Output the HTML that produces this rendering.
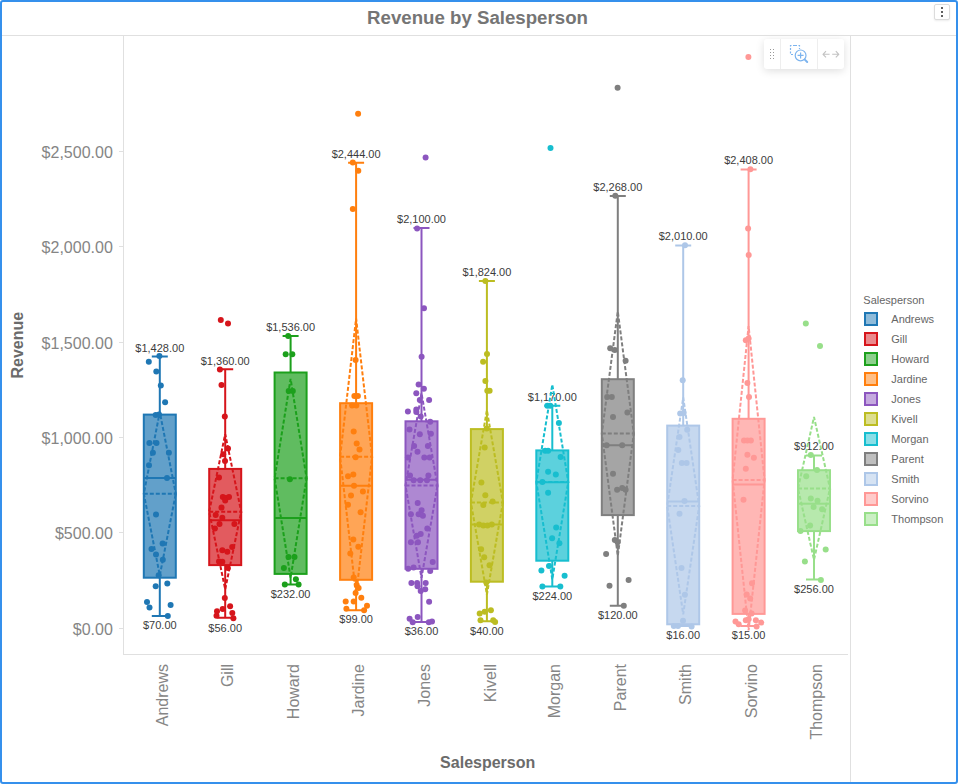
<!DOCTYPE html>
<html><head><meta charset="utf-8"><title>Revenue by Salesperson</title>
<style>
html,body{margin:0;padding:0;background:#fff;}
body{width:958px;height:784px;overflow:hidden;font-family:"Liberation Sans",sans-serif;}
#frame{position:absolute;left:0;top:0;width:958px;height:784px;box-sizing:border-box;border:2px solid #3590ec;border-radius:3px;background:#fff;}
#menu{position:absolute;left:934px;top:4px;width:16px;height:16px;box-sizing:border-box;border:1px solid #dcdcdc;border-radius:2px;background:#fff;box-shadow:0 1px 2px rgba(0,0,0,0.08);}
#tb{position:absolute;left:764px;top:39px;width:80px;height:30px;border-radius:3px;background:#fff;box-shadow:0 2px 8px rgba(0,0,0,0.13);}
#tb i{position:absolute;top:0;width:1px;height:30px;background:#eee;}
</style></head><body>
<div id="frame"></div>
<div id="menu"></div>
<div id="tb"><i style="left:16px"></i><i style="left:53px"></i></div>
<svg width="958" height="784" viewBox="0 0 958 784" style="position:absolute;left:0;top:0;font-family:'Liberation Sans',sans-serif">
<g shape-rendering="crispEdges" fill="#e0e0e0">
<rect x="2" y="35" width="954" height="1"/>
<rect x="123" y="36" width="1" height="619"/>
<rect x="123" y="654" width="725" height="1"/>
<rect x="850" y="36" width="1" height="746"/>
<rect x="119" y="628" width="4" height="1"/>
<rect x="119" y="532" width="4" height="1"/>
<rect x="119" y="437" width="4" height="1"/>
<rect x="119" y="342" width="4" height="1"/>
<rect x="119" y="246" width="4" height="1"/>
<rect x="119" y="151" width="4" height="1"/>
</g>
<text x="477.5" y="24.4" text-anchor="middle" font-size="18.67" font-weight="bold" fill="#757575">Revenue by Salesperson</text>
<g font-size="16" fill="#858585" text-anchor="end">
<text x="112.8" y="634.8">$0.00</text>
<text x="112.8" y="539.4">$500.00</text>
<text x="112.8" y="444">$1,000.00</text>
<text x="112.8" y="348.6">$1,500.00</text>
<text x="112.8" y="253.2">$2,000.00</text>
<text x="112.8" y="157.8">$2,500.00</text>
</g>
<text transform="translate(23,345.2) rotate(-90)" text-anchor="middle" font-size="16" font-weight="bold" fill="#6b6b6b">Revenue</text>
<text x="487.7" y="768.3" text-anchor="middle" font-size="16" font-weight="bold" fill="#6b6b6b">Salesperson</text>
<g font-size="16" fill="#868686" text-anchor="end">
<text transform="translate(168.4,664) rotate(-90)">Andrews</text>
<text transform="translate(233.3,664) rotate(-90)">Gill</text>
<text transform="translate(299.2,664) rotate(-90)">Howard</text>
<text transform="translate(363.9,664) rotate(-90)">Jardine</text>
<text transform="translate(430.1,664) rotate(-90)">Jones</text>
<text transform="translate(495.5,664) rotate(-90)">Kivell</text>
<text transform="translate(560.4,664) rotate(-90)">Morgan</text>
<text transform="translate(626.4,664) rotate(-90)">Parent</text>
<text transform="translate(690.8,664) rotate(-90)">Smith</text>
<text transform="translate(757.2,664) rotate(-90)">Sorvino</text>
<text transform="translate(821.9,664) rotate(-90)">Thompson</text>
</g>
<g font-size="11" fill="#3c3c3c" text-anchor="middle">
<text x="159.8" y="352.2">$1,428.00</text>
<text x="159.8" y="628.5">$70.00</text>
<text x="225.2" y="364.8">$1,360.00</text>
<text x="225.2" y="632.4">$56.00</text>
<text x="290.6" y="330.5">$1,536.00</text>
<text x="290.6" y="598">$232.00</text>
<text x="356.1" y="158.3">$2,444.00</text>
<text x="356.1" y="623.1">$99.00</text>
<text x="421.5" y="222.6">$2,100.00</text>
<text x="421.5" y="634.8">$36.00</text>
<text x="486.9" y="275.7">$1,824.00</text>
<text x="486.9" y="634.8">$40.00</text>
<text x="552.3" y="401.3">$1,170.00</text>
<text x="552.3" y="600">$224.00</text>
<text x="617.8" y="190.5">$2,268.00</text>
<text x="617.8" y="619.4">$120.00</text>
<text x="683.2" y="240">$2,010.00</text>
<text x="683.2" y="638.6">$16.00</text>
<text x="748.6" y="164">$2,408.00</text>
<text x="748.6" y="638.7">$15.00</text>
<text x="814" y="450.2">$912.00</text>
<text x="814" y="593.2">$256.00</text>
</g>
<g stroke="#1f77b4" fill="none" stroke-width="2">
<path d="M159.8 356.6V414.6M159.8 577.7V615.9M151.8 356.6H167.8M151.8 615.9H167.8"/>
<rect x="143.8" y="414.6" width="32" height="163.1" fill="#1f77b4" fill-opacity="0.7"/>
<path d="M143.8 477.9H175.8"/>
<path stroke-dasharray="4 2" stroke-width="2" d="M143.8 493.7H175.8L159.8 412L143.8 493.7L159.8 575.4L175.8 493.7"/>
</g>
<g fill="#1f77b4"><circle cx="159.4" cy="356.1" r="3"/><circle cx="148.8" cy="361.8" r="3"/><circle cx="156.3" cy="371.4" r="3"/><circle cx="160.8" cy="385.5" r="3"/><circle cx="165.1" cy="402.3" r="3"/><circle cx="155.7" cy="414.9" r="3"/><circle cx="159" cy="414.6" r="3"/><circle cx="149.4" cy="443.1" r="3"/><circle cx="156.5" cy="443.1" r="3"/><circle cx="152.9" cy="452.7" r="3"/><circle cx="168.9" cy="452.7" r="3"/><circle cx="149" cy="465.2" r="3"/><circle cx="167" cy="477.9" r="3"/><circle cx="156" cy="514.4" r="3"/><circle cx="162.6" cy="543.5" r="3"/><circle cx="151.5" cy="549" r="3"/><circle cx="156" cy="554.5" r="3"/><circle cx="162.8" cy="559.8" r="3"/><circle cx="158.7" cy="575.2" r="3"/><circle cx="167.3" cy="583.5" r="3"/><circle cx="155.7" cy="586.3" r="3"/><circle cx="147" cy="602.1" r="3"/><circle cx="149.5" cy="607.6" r="3"/><circle cx="170.6" cy="604.9" r="3"/><circle cx="167.8" cy="615.9" r="3"/></g>
<g stroke="#d6151b" fill="none" stroke-width="2">
<path d="M225.2 369.2V468.9M225.2 565.1V617.8M217.2 369.2H233.2M217.2 617.8H233.2"/>
<rect x="209.2" y="468.9" width="32" height="96.2" fill="#d6151b" fill-opacity="0.7"/>
<path d="M209.2 520.3H241.2"/>
<path stroke-dasharray="4 2" stroke-width="2" d="M209.2 511.7H241.2L225.2 434.1L209.2 511.7L225.2 589.3L241.2 511.7"/>
</g>
<g fill="#d6151b"><circle cx="220.8" cy="320" r="3"/><circle cx="228" cy="323.6" r="3"/><circle cx="219.9" cy="369.4" r="3"/><circle cx="221.5" cy="385" r="3"/><circle cx="224.8" cy="416.6" r="3"/><circle cx="228" cy="448.5" r="3"/><circle cx="223.2" cy="454.3" r="3"/><circle cx="225" cy="461.1" r="3"/><circle cx="219" cy="477.5" r="3"/><circle cx="222.8" cy="497.1" r="3"/><circle cx="225.7" cy="498" r="3"/><circle cx="229" cy="497.1" r="3"/><circle cx="225.2" cy="500.4" r="3"/><circle cx="221.5" cy="507.6" r="3"/><circle cx="215.7" cy="514.9" r="3"/><circle cx="222.3" cy="517.8" r="3"/><circle cx="219.5" cy="524" r="3"/><circle cx="234.4" cy="524" r="3"/><circle cx="214.9" cy="528.6" r="3"/><circle cx="232.2" cy="547" r="3"/><circle cx="222.3" cy="550.2" r="3"/><circle cx="227.3" cy="551.8" r="3"/><circle cx="219" cy="561.5" r="3"/><circle cx="222.3" cy="561.8" r="3"/><circle cx="227.8" cy="568.1" r="3"/><circle cx="224.8" cy="598" r="3"/><circle cx="230.1" cy="606.2" r="3"/><circle cx="222.7" cy="609" r="3"/><circle cx="217" cy="611.2" r="3"/><circle cx="232.3" cy="612.9" r="3"/><circle cx="216.5" cy="615.7" r="3"/><circle cx="233.4" cy="618.3" r="3"/></g>
<g stroke="#1ca01c" fill="none" stroke-width="2">
<path d="M290.6 335.9V372.5M290.6 573.9V584.4M282.6 335.9H298.6M282.6 584.4H298.6"/>
<rect x="274.6" y="372.5" width="32" height="201.4" fill="#1ca01c" fill-opacity="0.7"/>
<path d="M274.6 517.9H306.6"/>
<path stroke-dasharray="4 2" stroke-width="2" d="M274.6 478.2H306.6L290.6 378.8L274.6 478.2L290.6 577.6L306.6 478.2"/>
</g>
<g fill="#1ca01c"><circle cx="288.2" cy="335.9" r="3"/><circle cx="285.7" cy="354.3" r="3"/><circle cx="292.3" cy="354.3" r="3"/><circle cx="288.7" cy="390.9" r="3"/><circle cx="292.8" cy="390.9" r="3"/><circle cx="289.9" cy="479.3" r="3"/><circle cx="288.5" cy="556.9" r="3"/><circle cx="294.5" cy="556.9" r="3"/><circle cx="283.9" cy="567.9" r="3"/><circle cx="295.9" cy="579.2" r="3"/><circle cx="284.8" cy="584.5" r="3"/><circle cx="298.6" cy="584.5" r="3"/></g>
<g stroke="#ff7f0e" fill="none" stroke-width="2">
<path d="M356.1 162.7V403.2M356.1 579.8V610.3M348.1 162.7H364.1M348.1 610.3H364.1"/>
<rect x="340.1" y="403.2" width="32" height="176.6" fill="#ff7f0e" fill-opacity="0.7"/>
<path d="M340.1 485.7H372.1"/>
<path stroke-dasharray="4 2" stroke-width="2" d="M340.1 456.8H372.1L356.1 318.5L340.1 456.8L356.1 595.1L372.1 456.8"/>
</g>
<g fill="#ff7f0e"><circle cx="358.1" cy="113.8" r="3"/><circle cx="352.8" cy="162.4" r="3"/><circle cx="358.3" cy="170.7" r="3"/><circle cx="352.8" cy="209" r="3"/><circle cx="355.6" cy="360.1" r="3"/><circle cx="354.4" cy="396" r="3"/><circle cx="357.9" cy="396" r="3"/><circle cx="352.1" cy="405.6" r="3"/><circle cx="356.3" cy="405.6" r="3"/><circle cx="353.7" cy="431.5" r="3"/><circle cx="356.7" cy="443.4" r="3"/><circle cx="359.5" cy="449.6" r="3"/><circle cx="355.6" cy="457.2" r="3"/><circle cx="353.3" cy="474.4" r="3"/><circle cx="348" cy="476.3" r="3"/><circle cx="354" cy="485.7" r="3"/><circle cx="362.9" cy="491.4" r="3"/><circle cx="351" cy="495.6" r="3"/><circle cx="348" cy="504.8" r="3"/><circle cx="360.6" cy="512.3" r="3"/><circle cx="353.3" cy="539.6" r="3"/><circle cx="358.3" cy="546.8" r="3"/><circle cx="350.3" cy="553.4" r="3"/><circle cx="353.7" cy="577.5" r="3"/><circle cx="356.7" cy="585.1" r="3"/><circle cx="358.6" cy="588.1" r="3"/><circle cx="355.6" cy="593.1" r="3"/><circle cx="361.3" cy="597.7" r="3"/><circle cx="345.7" cy="601.6" r="3"/><circle cx="353.7" cy="601.6" r="3"/><circle cx="367" cy="605.7" r="3"/><circle cx="346.4" cy="608.7" r="3"/><circle cx="364.1" cy="610.3" r="3"/></g>
<g stroke="#8c56bf" fill="none" stroke-width="2">
<path d="M421.5 228V421.3M421.5 568.8V622M413.5 228H429.5M413.5 622H429.5"/>
<rect x="405.5" y="421.3" width="32" height="147.5" fill="#8c56bf" fill-opacity="0.7"/>
<path d="M405.5 479.8H437.5"/>
<path stroke-dasharray="4 2" stroke-width="2" d="M405.5 485.5H437.5L421.5 393.2L405.5 485.5L421.5 577.8L437.5 485.5"/>
</g>
<g fill="#8c56bf"><circle cx="425.6" cy="157.4" r="3"/><circle cx="417.1" cy="228.4" r="3"/><circle cx="424" cy="308.2" r="3"/><circle cx="421.6" cy="356.8" r="3"/><circle cx="418.6" cy="384.6" r="3"/><circle cx="423.9" cy="388.8" r="3"/><circle cx="416.3" cy="393.2" r="3"/><circle cx="419.8" cy="400" r="3"/><circle cx="429.1" cy="400" r="3"/><circle cx="407.9" cy="411.4" r="3"/><circle cx="416.3" cy="409.6" r="3"/><circle cx="416.3" cy="412" r="3"/><circle cx="420.7" cy="416.4" r="3"/><circle cx="430.2" cy="421.8" r="3"/><circle cx="409.5" cy="429.5" r="3"/><circle cx="419.8" cy="434.3" r="3"/><circle cx="430.9" cy="433.8" r="3"/><circle cx="414.1" cy="445.9" r="3"/><circle cx="427.9" cy="445.9" r="3"/><circle cx="417.5" cy="451.8" r="3"/><circle cx="407.9" cy="457.5" r="3"/><circle cx="424.3" cy="457.5" r="3"/><circle cx="429.6" cy="457.5" r="3"/><circle cx="410" cy="475.4" r="3"/><circle cx="428.4" cy="475.4" r="3"/><circle cx="413.6" cy="480.2" r="3"/><circle cx="420.2" cy="480.2" r="3"/><circle cx="427" cy="480.2" r="3"/><circle cx="417.7" cy="503" r="3"/><circle cx="421.6" cy="510.2" r="3"/><circle cx="410.9" cy="514.3" r="3"/><circle cx="418.6" cy="514.3" r="3"/><circle cx="422.9" cy="515.7" r="3"/><circle cx="427.3" cy="528.6" r="3"/><circle cx="420.7" cy="533.9" r="3"/><circle cx="416.8" cy="535.7" r="3"/><circle cx="410.9" cy="542.3" r="3"/><circle cx="418" cy="542.3" r="3"/><circle cx="432.7" cy="562.1" r="3"/><circle cx="408.2" cy="568.8" r="3"/><circle cx="413.6" cy="567.5" r="3"/><circle cx="430.2" cy="571.1" r="3"/><circle cx="411.4" cy="583" r="3"/><circle cx="417.1" cy="583" r="3"/><circle cx="425.7" cy="583" r="3"/><circle cx="417.5" cy="586.3" r="3"/><circle cx="420.7" cy="591.1" r="3"/><circle cx="425.2" cy="589.3" r="3"/><circle cx="429.1" cy="601.8" r="3"/><circle cx="417.7" cy="617" r="3"/><circle cx="409.6" cy="618.8" r="3"/><circle cx="412.7" cy="622.3" r="3"/><circle cx="428.8" cy="622.3" r="3"/><circle cx="432" cy="621.4" r="3"/></g>
<g stroke="#bcbd22" fill="none" stroke-width="2">
<path d="M486.9 281.1V429.1M486.9 581.7V621.2M478.9 281.1H494.9M478.9 621.2H494.9"/>
<rect x="470.9" y="429.1" width="32" height="152.6" fill="#bcbd22" fill-opacity="0.7"/>
<path d="M470.9 524.6H502.9"/>
<path stroke-dasharray="4 2" stroke-width="2" d="M470.9 502.4H502.9L486.9 410.3L470.9 502.4L486.9 594.5L502.9 502.4"/>
</g>
<g fill="#bcbd22"><circle cx="485.4" cy="281.1" r="3"/><circle cx="487" cy="354.1" r="3"/><circle cx="483.1" cy="361.7" r="3"/><circle cx="485.4" cy="381" r="3"/><circle cx="487.3" cy="390.8" r="3"/><circle cx="489.6" cy="390.8" r="3"/><circle cx="486.7" cy="428.4" r="3"/><circle cx="484.7" cy="447.6" r="3"/><circle cx="481.4" cy="482.4" r="3"/><circle cx="485.3" cy="495.3" r="3"/><circle cx="492.6" cy="501.5" r="3"/><circle cx="483.3" cy="504.9" r="3"/><circle cx="479.1" cy="524.6" r="3"/><circle cx="483.3" cy="525.4" r="3"/><circle cx="487.5" cy="525.4" r="3"/><circle cx="491.8" cy="524.6" r="3"/><circle cx="481.1" cy="549.3" r="3"/><circle cx="484.2" cy="557.2" r="3"/><circle cx="489.5" cy="565.3" r="3"/><circle cx="486.3" cy="582.5" r="3"/><circle cx="490.9" cy="610.3" r="3"/><circle cx="484.7" cy="611.7" r="3"/><circle cx="479.7" cy="613.4" r="3"/><circle cx="480.5" cy="620.2" r="3"/><circle cx="493.2" cy="620.2" r="3"/><circle cx="495.1" cy="621.9" r="3"/></g>
<g stroke="#17becf" fill="none" stroke-width="2">
<path d="M552.3 405.7V450.4M552.3 560.7V586.4M544.3 405.7H560.3M544.3 586.4H560.3"/>
<rect x="536.3" y="450.4" width="32" height="110.3" fill="#17becf" fill-opacity="0.7"/>
<path d="M536.3 482.2H568.3"/>
<path stroke-dasharray="4 2" stroke-width="2" d="M536.3 482H568.3L552.3 384.6L536.3 482L552.3 579.4L568.3 482"/>
</g>
<g fill="#17becf"><circle cx="550.5" cy="147.9" r="3"/><circle cx="547.3" cy="405.7" r="3"/><circle cx="550.3" cy="405.7" r="3"/><circle cx="558.9" cy="423" r="3"/><circle cx="545.1" cy="450.7" r="3"/><circle cx="548.1" cy="450.7" r="3"/><circle cx="560.6" cy="457.1" r="3"/><circle cx="548.1" cy="471.8" r="3"/><circle cx="555.8" cy="474.5" r="3"/><circle cx="542.4" cy="482.1" r="3"/><circle cx="548.1" cy="492.7" r="3"/><circle cx="556.2" cy="527.5" r="3"/><circle cx="552.1" cy="538.2" r="3"/><circle cx="559.4" cy="543.2" r="3"/><circle cx="549" cy="566.1" r="3"/><circle cx="541.4" cy="570.4" r="3"/><circle cx="564.6" cy="575.7" r="3"/><circle cx="542.4" cy="586.4" r="3"/><circle cx="560.3" cy="586.4" r="3"/></g>
<g stroke="#7f7f7f" fill="none" stroke-width="2">
<path d="M617.8 195.9V379.2M617.8 515.1V605.8M609.8 195.9H625.8M609.8 605.8H625.8"/>
<rect x="601.8" y="379.2" width="32" height="135.9" fill="#7f7f7f" fill-opacity="0.7"/>
<path d="M601.8 445.3H633.8"/>
<path stroke-dasharray="4 2" stroke-width="2" d="M601.8 433.6H633.8L617.8 311.5L601.8 433.6L617.8 555.7L633.8 433.6"/>
</g>
<g fill="#7f7f7f"><circle cx="617.6" cy="87.7" r="3"/><circle cx="615.3" cy="195.8" r="3"/><circle cx="610.2" cy="348.2" r="3"/><circle cx="614.8" cy="350" r="3"/><circle cx="625.6" cy="360.8" r="3"/><circle cx="607.2" cy="396.9" r="3"/><circle cx="611.8" cy="396.9" r="3"/><circle cx="627.4" cy="412.5" r="3"/><circle cx="613" cy="417.1" r="3"/><circle cx="606.6" cy="445.3" r="3"/><circle cx="622.2" cy="445.3" r="3"/><circle cx="613" cy="473.7" r="3"/><circle cx="617.1" cy="489.8" r="3"/><circle cx="622.2" cy="488" r="3"/><circle cx="625.6" cy="489.8" r="3"/><circle cx="614.8" cy="539.9" r="3"/><circle cx="617.6" cy="542.2" r="3"/><circle cx="606.1" cy="554.1" r="3"/><circle cx="628.6" cy="580" r="3"/><circle cx="609.5" cy="585.8" r="3"/><circle cx="623.8" cy="605.7" r="3"/></g>
<g stroke="#aec7e8" fill="none" stroke-width="2">
<path d="M683.2 245.4V425.6M683.2 624.3V626M675.2 245.4H691.2M675.2 626H691.2"/>
<rect x="667.2" y="425.6" width="32" height="198.7" fill="#aec7e8" fill-opacity="0.7"/>
<path d="M667.2 501.4H699.2"/>
<path stroke-dasharray="4 2" stroke-width="2" d="M667.2 505.9H699.2L683.2 397.5L667.2 505.9L683.2 614.3L699.2 505.9"/>
</g>
<g fill="#aec7e8"><circle cx="685" cy="245.3" r="3"/><circle cx="682.7" cy="380.2" r="3"/><circle cx="680.2" cy="413.4" r="3"/><circle cx="683.6" cy="413" r="3"/><circle cx="687.2" cy="429.8" r="3"/><circle cx="679.5" cy="437.1" r="3"/><circle cx="678.3" cy="450" r="3"/><circle cx="681.8" cy="462.9" r="3"/><circle cx="686.6" cy="462.9" r="3"/><circle cx="684.5" cy="500.9" r="3"/><circle cx="679.5" cy="513.8" r="3"/><circle cx="681.5" cy="568" r="3"/><circle cx="684.9" cy="594.8" r="3"/><circle cx="683" cy="620.7" r="3"/><circle cx="673.8" cy="626" r="3"/><circle cx="678" cy="626" r="3"/><circle cx="691.6" cy="626.4" r="3"/></g>
<g stroke="#ff9896" fill="none" stroke-width="2">
<path d="M748.6 169.4V418.8M748.6 613.9V626.1M740.6 169.4H756.6M740.6 626.1H756.6"/>
<rect x="732.6" y="418.8" width="32" height="195.1" fill="#ff9896" fill-opacity="0.7"/>
<path d="M732.6 484.6H764.6"/>
<path stroke-dasharray="4 2" stroke-width="2" d="M732.6 480H764.6L748.6 326L732.6 480L748.6 630.5L764.6 480"/>
</g>
<g fill="#ff9896"><circle cx="748.4" cy="56.9" r="3"/><circle cx="750.4" cy="169.3" r="3"/><circle cx="748.1" cy="228.4" r="3"/><circle cx="748.7" cy="255.1" r="3"/><circle cx="745.8" cy="340.2" r="3"/><circle cx="748.6" cy="338.4" r="3"/><circle cx="747.4" cy="383.1" r="3"/><circle cx="749" cy="396.9" r="3"/><circle cx="744" cy="440.5" r="3"/><circle cx="747.4" cy="440.5" r="3"/><circle cx="750.9" cy="440.5" r="3"/><circle cx="747.4" cy="454.7" r="3"/><circle cx="753.9" cy="457.7" r="3"/><circle cx="745.8" cy="468.7" r="3"/><circle cx="743.5" cy="499.8" r="3"/><circle cx="752" cy="583.2" r="3"/><circle cx="746.7" cy="594.6" r="3"/><circle cx="750.2" cy="598.5" r="3"/><circle cx="745.1" cy="610.5" r="3"/><circle cx="751.6" cy="613.4" r="3"/><circle cx="745.8" cy="620.3" r="3"/><circle cx="748.6" cy="619.2" r="3"/><circle cx="735.5" cy="621.5" r="3"/><circle cx="755.9" cy="620.3" r="3"/><circle cx="761.2" cy="622.6" r="3"/><circle cx="738.7" cy="624.2" r="3"/><circle cx="756.6" cy="626.5" r="3"/></g>
<g stroke="#98df8a" fill="none" stroke-width="2">
<path d="M814 455.6V470.2M814 531.1V579.6M806 455.6H822M806 579.6H822"/>
<rect x="798" y="470.2" width="32" height="60.9" fill="#98df8a" fill-opacity="0.7"/>
<path d="M798 503.7H830"/>
<path stroke-dasharray="4 2" stroke-width="2" d="M798 488.4H830L814 417L798 488.4L814 559.8L830 488.4"/>
</g>
<g fill="#98df8a"><circle cx="805.8" cy="323.6" r="3"/><circle cx="820" cy="346.1" r="3"/><circle cx="810.8" cy="454.9" r="3"/><circle cx="817" cy="470" r="3"/><circle cx="806.2" cy="476.3" r="3"/><circle cx="810.8" cy="498.5" r="3"/><circle cx="817.5" cy="500.8" r="3"/><circle cx="813.6" cy="507" r="3"/><circle cx="822.1" cy="509.3" r="3"/><circle cx="810.1" cy="525.4" r="3"/><circle cx="800.5" cy="531.1" r="3"/><circle cx="825.7" cy="549.5" r="3"/><circle cx="804.9" cy="561.6" r="3"/><circle cx="820.9" cy="580" r="3"/></g>
<text x="863.3" y="304" font-size="11" fill="#666">Salesperson</text>
<rect x="865" y="313" width="12" height="12" fill="#1f77b4" fill-opacity="0.5" stroke="#1f77b4" stroke-width="2"/>
<text x="891.3" y="323" font-size="11" fill="#666">Andrews</text>
<rect x="865" y="333" width="12" height="12" fill="#d6151b" fill-opacity="0.5" stroke="#d6151b" stroke-width="2"/>
<text x="891.3" y="343" font-size="11" fill="#666">Gill</text>
<rect x="865" y="353" width="12" height="12" fill="#1ca01c" fill-opacity="0.5" stroke="#1ca01c" stroke-width="2"/>
<text x="891.3" y="363" font-size="11" fill="#666">Howard</text>
<rect x="865" y="373" width="12" height="12" fill="#ff7f0e" fill-opacity="0.5" stroke="#ff7f0e" stroke-width="2"/>
<text x="891.3" y="383" font-size="11" fill="#666">Jardine</text>
<rect x="865" y="393" width="12" height="12" fill="#8c56bf" fill-opacity="0.5" stroke="#8c56bf" stroke-width="2"/>
<text x="891.3" y="403" font-size="11" fill="#666">Jones</text>
<rect x="865" y="413" width="12" height="12" fill="#bcbd22" fill-opacity="0.5" stroke="#bcbd22" stroke-width="2"/>
<text x="891.3" y="423" font-size="11" fill="#666">Kivell</text>
<rect x="865" y="433" width="12" height="12" fill="#17becf" fill-opacity="0.5" stroke="#17becf" stroke-width="2"/>
<text x="891.3" y="443" font-size="11" fill="#666">Morgan</text>
<rect x="865" y="453" width="12" height="12" fill="#7f7f7f" fill-opacity="0.5" stroke="#7f7f7f" stroke-width="2"/>
<text x="891.3" y="463" font-size="11" fill="#666">Parent</text>
<rect x="865" y="473" width="12" height="12" fill="#aec7e8" fill-opacity="0.5" stroke="#aec7e8" stroke-width="2"/>
<text x="891.3" y="483" font-size="11" fill="#666">Smith</text>
<rect x="865" y="493" width="12" height="12" fill="#ff9896" fill-opacity="0.5" stroke="#ff9896" stroke-width="2"/>
<text x="891.3" y="503" font-size="11" fill="#666">Sorvino</text>
<rect x="865" y="513" width="12" height="12" fill="#98df8a" fill-opacity="0.5" stroke="#98df8a" stroke-width="2"/>
<text x="891.3" y="523" font-size="11" fill="#666">Thompson</text>
<g fill="#606060" shape-rendering="crispEdges"><rect x="941" y="7" width="2" height="2"/><rect x="941" y="11" width="2" height="2"/><rect x="941" y="15" width="2" height="2"/></g>
<g fill="#999" shape-rendering="crispEdges">
<rect x="770" y="49" width="1" height="1"/><rect x="773" y="49" width="1" height="1"/>
<rect x="770" y="52" width="1" height="1"/><rect x="773" y="52" width="1" height="1"/>
<rect x="770" y="55" width="1" height="1"/><rect x="773" y="55" width="1" height="1"/>
<rect x="770" y="58" width="1" height="1"/><rect x="773" y="58" width="1" height="1"/>
</g>
<g fill="none" stroke="#7db4ee" stroke-width="1.2">
<path stroke-dasharray="2 1.5" d="M795 45.5H790.5V54.5H794 M795 45.5H799.5V49"/>
<circle cx="800.6" cy="55.4" r="5.4" fill="#fff"/>
<path d="M797.6 55.4H803.6M800.6 52.4V58.4"/>
<path stroke-width="2" stroke-linecap="round" d="M804.8 59.6L807.2 62"/>
</g>
<g fill="none" stroke="#c2c2c2" stroke-width="1.1" stroke-linecap="butt" stroke-linejoin="round">
<path d="M829.6 54.3H823M826 51.2L823 54.3L826 57.4"/>
<path d="M832.2 54.3H838.8M835.8 51.2L838.8 54.3L835.8 57.4"/>
</g>
</svg>
</body></html>
